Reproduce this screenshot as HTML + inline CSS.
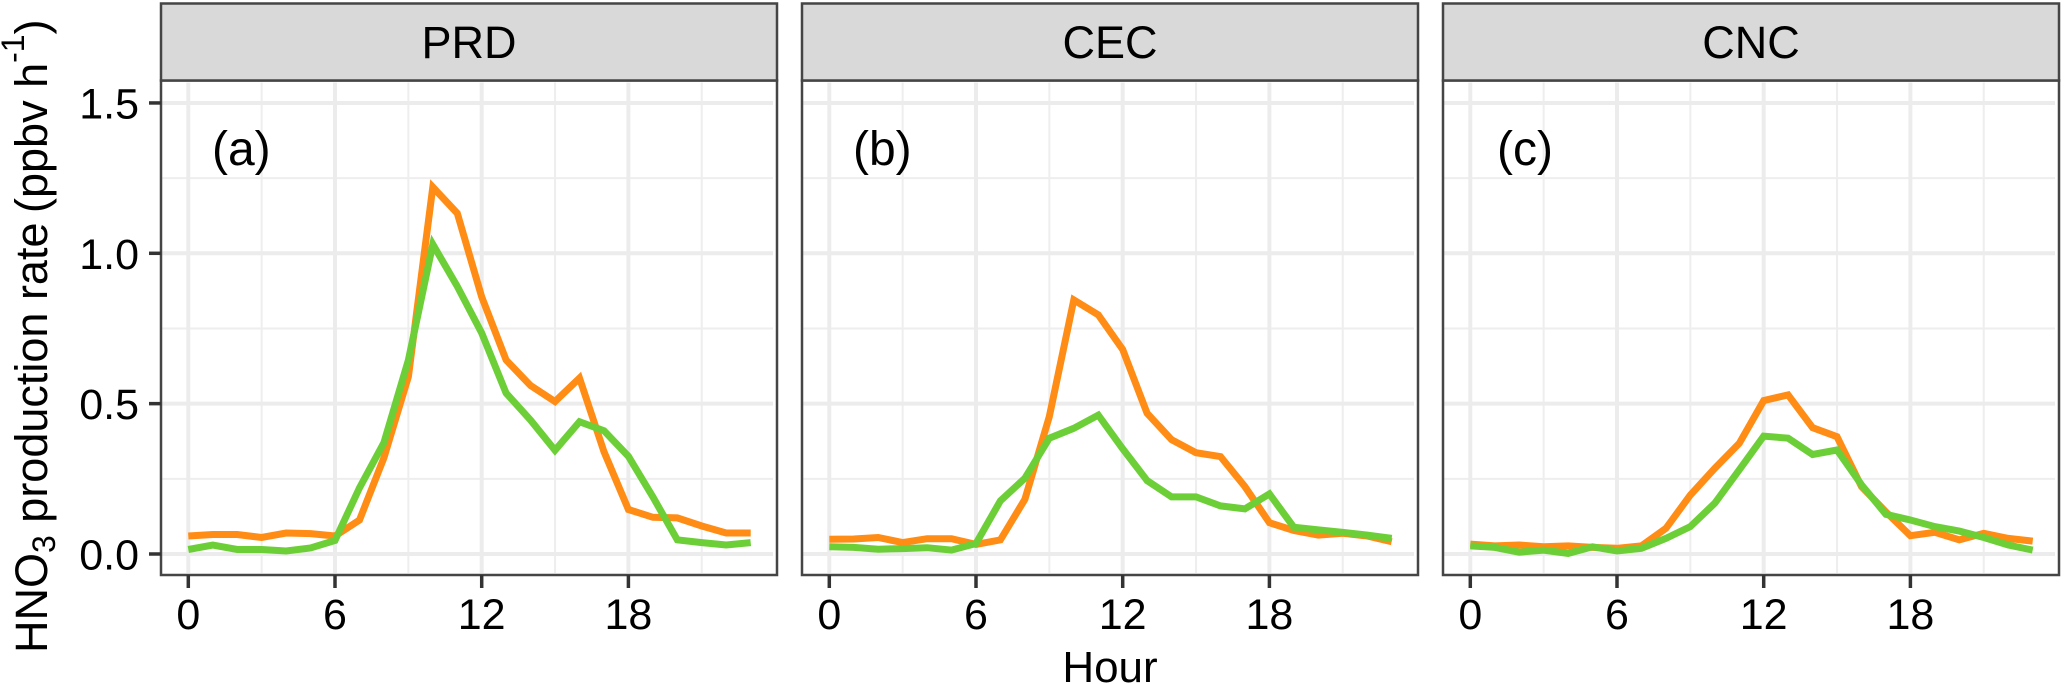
<!DOCTYPE html>
<html>
<head>
<meta charset="utf-8">
<title>HNO3 production rate</title>
<style>
html,body{margin:0;padding:0;background:#fff;width:2067px;height:684px;overflow:hidden}
svg{display:block}
text{font-family:"Liberation Sans",sans-serif;fill:#000}
</style>
</head>
<body>
<svg id="chart" xmlns="http://www.w3.org/2000/svg" width="2067" height="684" viewBox="0 0 2067 684">
  <rect x="0" y="0" width="2067" height="684" fill="#fff"/>
  <text transform="translate(47,653) rotate(-90)" font-size="45">HNO<tspan font-size="32" dy="8">3</tspan><tspan dy="-8"> production rate </tspan><tspan dx="-3">(ppbv h</tspan><tspan font-size="32" dy="-23">-1</tspan><tspan dy="23">)</tspan></text>
  <text x="1110" y="682" font-size="44" text-anchor="middle">Hour</text>
</svg>
<script>
const regions = ["PRD", "CEC", "CNC"];
const panelTags = ["(a)", "(b)", "(c)"];
const hours = [0,1,2,3,4,5,6,7,8,9,10,11,12,13,14,15,16,17,18,19,20,21,22,23];
const xTickValues = [0, 6, 12, 18];
const xMinorValues = [3, 9, 15, 21];
const yTickValues = [0, 0.5, 1, 1.5];
const yTickLabels = ["0.0", "0.5", "1.0", "1.5"];
const yMinorValues = [0.25, 0.75, 1.25];
const prdOrange = [0.06,0.065,0.065,0.055,0.07,0.068,0.06,0.113,0.32,0.59,1.22,1.133,0.855,0.645,0.56,0.507,0.585,0.34,0.148,0.122,0.12,0.093,0.07,0.07];
const prdGreen = [0.015,0.03,0.015,0.015,0.01,0.02,0.045,0.22,0.37,0.645,1.03,0.89,0.735,0.535,0.445,0.345,0.44,0.41,0.325,0.19,0.047,0.038,0.03,0.038];
const cecOrange = [0.049,0.05,0.055,0.038,0.051,0.051,0.032,0.047,0.182,0.457,0.845,0.795,0.68,0.468,0.38,0.337,0.324,0.224,0.104,0.078,0.063,0.069,0.06,0.041];
const cecGreen = [0.024,0.022,0.016,0.018,0.021,0.013,0.035,0.177,0.252,0.385,0.418,0.462,0.35,0.244,0.19,0.19,0.16,0.15,0.2,0.089,0.08,0.072,0.063,0.052];
const cncOrange = [0.033,0.027,0.03,0.024,0.027,0.022,0.019,0.027,0.085,0.196,0.285,0.368,0.51,0.529,0.42,0.39,0.224,0.14,0.061,0.072,0.047,0.069,0.052,0.043];
const cncGreen = [0.027,0.022,0.006,0.013,0.002,0.024,0.01,0.019,0.052,0.091,0.169,0.28,0.392,0.385,0.331,0.346,0.23,0.132,0.113,0.091,0.076,0.055,0.03,0.013];
const orangeSeries = [prdOrange, cecOrange, cncOrange];
const greenSeries = [prdGreen, cecGreen, cncGreen];

const NS = "http://www.w3.org/2000/svg";
const svg = document.getElementById("chart");
const panelLefts = [161, 802, 1443];
const panelWidth = 616;
const panelTop = 80.5;
const panelBottom = 575;
const xScale = (v, i) => panelLefts[i] + 27.3 + 24.45 * v;
const yScale = v => 554 - 300.7 * v;

function make(tag, attrs, parent) {
  const el = document.createElementNS(NS, tag);
  for (const k in attrs) el.setAttribute(k, attrs[k]);
  parent.appendChild(el);
  return el;
}

regions.forEach(function (region, i) {
  const left = panelLefts[i];
  const right = left + panelWidth;
  const key = region.toLowerCase();
  const g = make("g", {}, svg);
  
  

  yMinorValues.forEach(function (v) {
    const l = make("line", {x1: left, x2: right - 4, y1: yScale(v), y2: yScale(v), stroke: "#eeeeee", "stroke-width": 2}, g);
    
    
  });
  xMinorValues.forEach(function (v) {
    const l = make("line", {x1: xScale(v, i), x2: xScale(v, i), y1: panelTop + 2, y2: panelBottom - 2, stroke: "#eeeeee", "stroke-width": 2}, g);
    
    
  });
  yTickValues.forEach(function (v) {
    const l = make("line", {x1: left, x2: right - 4, y1: yScale(v), y2: yScale(v), stroke: "#ececec", "stroke-width": 4}, g);
    
    
  });
  xTickValues.forEach(function (v) {
    const l = make("line", {x1: xScale(v, i), x2: xScale(v, i), y1: panelTop + 2, y2: panelBottom - 2, stroke: "#ececec", "stroke-width": 4}, g);
    
    
  });

  const seriesSets = [[orangeSeries[i], "#ff8c14", "orange"], [greenSeries[i], "#6dcf38", "green"]];
  seriesSets.forEach(function (s) {
    const pts = hours.map(function (h, j) { return xScale(h, i).toFixed(1) + "," + yScale(s[0][j]).toFixed(1); }).join(" ");
    const line = make("polyline", {points: pts, fill: "none", stroke: s[1], "stroke-width": 7, "stroke-linejoin": "miter"}, g);
    
    
  });

  const border = make("rect", {x: left, y: panelTop, width: panelWidth, height: panelBottom - panelTop, fill: "none", stroke: "#454545", "stroke-width": 2.5}, g);
  
  

  const strip = make("rect", {x: left, y: 3.5, width: panelWidth, height: panelTop - 3.5, fill: "#d9d9d9", stroke: "#454545", "stroke-width": 2.5}, g);
  
  

  const title = make("text", {x: left + panelWidth / 2, y: 58, "font-size": 45, "text-anchor": "middle"}, g);
  title.textContent = region;
  
  

  const tag = make("text", {x: left + (i === 2 ? 54 : 51), y: 165, "font-size": 48}, g);
  tag.textContent = panelTags[i];
  
  

  xTickValues.forEach(function (v) {
    const t = make("line", {x1: xScale(v, i), x2: xScale(v, i), y1: panelBottom, y2: panelBottom + 13, stroke: "#333", "stroke-width": 3.5}, g);
    
    
    const lab = make("text", {x: xScale(v, i), y: 629, "font-size": 43, "text-anchor": "middle"}, g);
    lab.textContent = String(v);
    
    
  });

  if (i === 0) {
    yTickValues.forEach(function (v, j) {
      const t = make("line", {x1: left - 12, x2: left, y1: yScale(v), y2: yScale(v), stroke: "#333", "stroke-width": 3.5}, g);
      
      
      const lab = make("text", {x: 139, y: yScale(v) + 15.5, "font-size": 43, "text-anchor": "end"}, g);
      lab.textContent = yTickLabels[j];
      
      
    });
  }
});
</script>
</body>
</html>
